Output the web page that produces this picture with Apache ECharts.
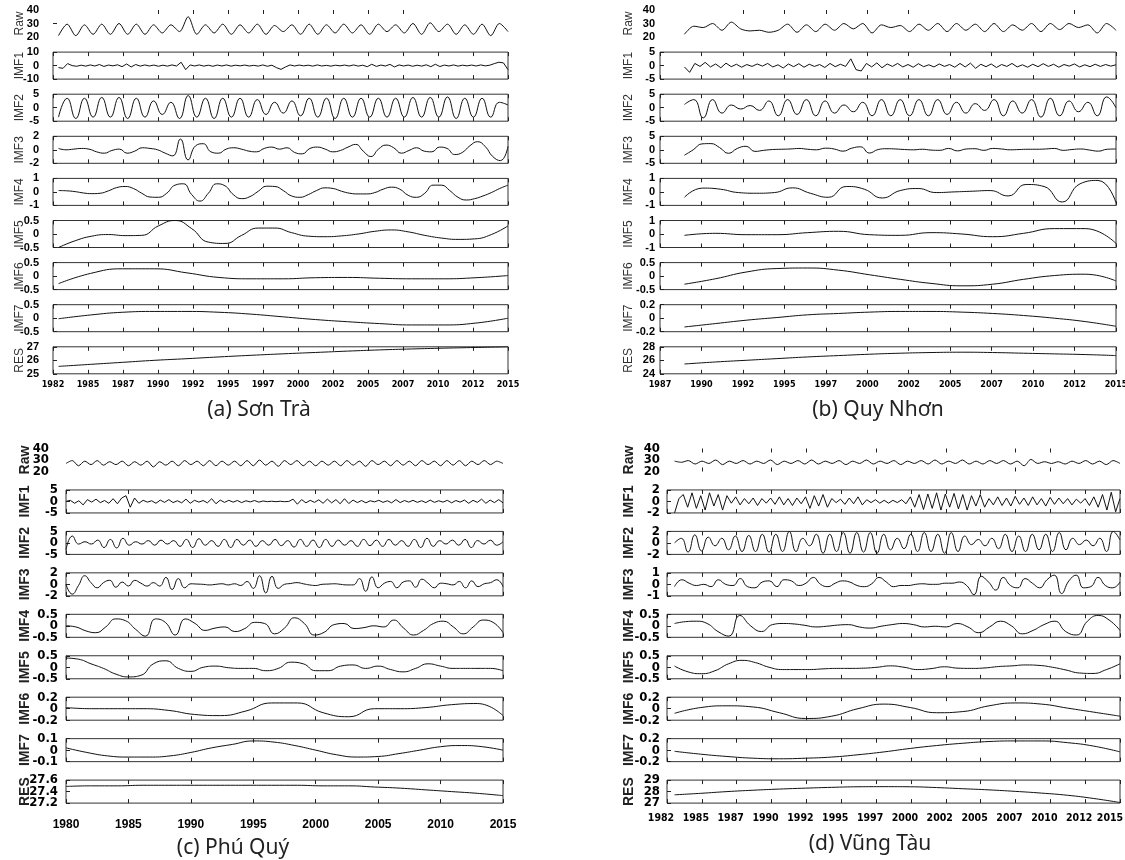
<!DOCTYPE html>
<html>
<head>
    <meta charset="utf-8">
    <title>EMD</title>
    <script src="https://cdn.jsdelivr.net/npm/echarts@6/dist/echarts.min.js"></script>
</head>
<body style="margin:0; background:#fff;">
    <div id="main" style="width:1125px; height:860px;"></div>
    <script>
        var rowNames = ['Raw', 'IMF1', 'IMF2', 'IMF3', 'IMF4', 'IMF5', 'IMF6', 'IMF7', 'RES']

        // (a) Son Tra
        var axisA = [1982.5, 2015.5]
        var spanA = [1982.9, 2015.5]
        var xLabelsA = ['1982', '1985', '1987', '1990', '1992', '1995', '1997', '2000', '2002', '2005', '2007', '2010', '2012', '2015']
        var yTicksA = [[20, 30, 40], [-10, 0, 10], [-5, 0, 5], [-2, 0, 2], [-1, 0, 1], [-0.5, 0, 0.5], [-0.5, 0, 0.5], [-0.5, 0, 0.5], [25, 26, 27]]
        var rawA = [21, 29.5, 21, 29, 22, 29.5, 22, 30, 22, 29.5, 22, 29, 23, 29, 24, 35, 22, 29, 23, 29.5, 22, 29, 23, 29.5, 22, 28.5, 24, 29, 22, 29.5, 22, 29, 23, 29.5, 23, 29, 22, 29.5, 24, 29, 23, 30, 22, 30.5, 24, 29.5, 22, 29, 22, 29.5, 21, 30, 24]
        var imf1A = [-1.5, -2, 1.5, 0, -0.5, 0.3, -0.4, 0.5, -0.3, 0.8, -0.6, 0.4, -0.2, 0.6, -0.8, 1.2, -1.0, 0.8, -0.4, 0.5, -0.3, 0.4, -0.5, 0.3, -0.4, 0.5, -0.3, 2.5, -3, 0.5, -0.3, 0.5, -0.4, 0.3, -0.5, 0.4, -0.3, 0.5, -0.4, 0.3, -0.2, 0.4, -0.3, 0.2, -0.4, 0.5, -0.5, 0.3, -1.5, -2.8, -1.0, 0.5, -0.3, 0.4, -0.2, 0.3, -0.4, 0.5, -0.3, 0.2, -0.4, 0.3, -0.2, 0.4, -0.3, 0.5, -0.4, 0.3, -0.8, 1.0, -0.6, 0.4, -0.3, 0.9, -1.0, 0.5, -0.3, 0.4, -0.5, 0.3, -0.4, 0.6, -0.8, 1.0, -0.7, 0.4, -0.3, 0.5, -0.4, 0.3, -0.2, 0.4, -0.3, 0.5, -0.2, 0.3, 1.5, 2.5, 2.0, -3.0]
        var imf2A = [-3.5, 3.5, -4, 3.5, -3.5, 3.8, -3.5, 3.8, -4, 3.5, -3.5, 2.5, -2.5, 2, -4, 4.5, -3.5, 3.5, -4, 3.5, -3.5, 3.5, -3.5, 3, -2.5, 2, -2, 2.5, -3, 3.5, -3.5, 3.5, -4, 3.5, -3.5, 3.5, -3.5, 3.5, -3.5, 3.5, -3.5, 3.8, -3.5, 3.8, -3.5, 4, -4, 3.5, -3.5, 3.5, -3.5, 2, 1]
        var imf3A = [0.2, 0, 0.1, 0.2, 0.1, -0.3, -0.5, -0.1, 0.1, -0.5, -0.2, 0.3, 0.2, 0, -0.5, -0.9, 1.6, -1.5, 0.6, 0.9, -0.3, -0.5, 0.1, 0.3, 0.1, -0.2, -0.3, 0.2, 0.4, 0.1, 0.3, -0.4, -0.6, 0.2, 0.4, 0.1, -0.3, -0.1, 0.4, 0.8, -0.2, -1.0, 0.1, 0.7, 0.3, -0.5, -0.1, 0.3, -0.2, -0.3, 0.4, 0.2, -0.7, -0.4, 0.6, 1.2, 0.5, -1.0, -1.6, 0.5]
        var imf4A = [0.1, 0.08, 0.02, -0.08, -0.13, -0.1, 0.08, 0.32, 0.4, 0.25, -0.1, -0.38, -0.4, -0.1, 0.5, 0.6, -0.2, -0.68, -0.1, 0.6, 0.45, -0.2, -0.5, -0.35, 0.05, 0.42, 0.4, 0.1, -0.3, -0.4, -0.2, 0.1, 0.3, 0.25, 0.05, -0.1, -0.15, -0.15, -0.05, 0.2, 0.35, 0.2, -0.25, -0.4, -0.1, 0.5, 0.5, 0.1, -0.4, -0.6, -0.5, -0.3, -0.05, 0.25, 0.5]
        var imf5A = [-0.5, -0.25, -0.08, -0.02, -0.06, -0.05, 0.3, 0.5, 0.2, -0.3, -0.35, -0.05, 0.22, 0.22, 0.05, -0.08, -0.1, -0.07, 0, 0.1, 0.15, 0.08, -0.05, -0.15, -0.2, -0.18, -0.02, 0.3]
        var imf6A = [-0.28, 0.1, 0.27, 0.27, 0.12, -0.05, -0.1, -0.1, -0.06, -0.05, -0.08, -0.1, -0.1, -0.06, 0.02]
        var imf7A = [-0.02, 0.12, 0.22, 0.25, 0.25, 0.22, 0.15, 0.05, -0.05, -0.13, -0.2, -0.25, -0.25, -0.18, 0]
        var resA = [25.55, 25.7, 25.85, 26.0, 26.12, 26.25, 26.37, 26.48, 26.58, 26.68, 26.77, 26.84, 26.9, 26.95, 27.0]

        // (b) Quy Nhon
        var axisB = [1987.5, 2015.5]
        var spanB = [1989.0, 2015.5]
        var xLabelsB = ['1987', '1990', '1992', '1995', '1997', '2000', '2002', '2005', '2007', '2010', '2012', '2015']
        var yTicksB = [[20, 30, 40], [-5, 0, 5], [-5, 0, 5], [-5, 0, 5], [-1, 0, 1], [-1, 0, 1], [-0.5, 0, 0.5], [-0.2, 0, 0.2], [24, 26, 28]]
        var rawB = [22, 28, 27, 30, 25, 31, 26, 24.5, 25, 23.5, 25, 29.5, 23.5, 29, 24, 29.5, 25, 30, 26, 30, 23, 29, 27, 28.5, 24, 29.5, 25, 30, 24, 30, 25, 29.5, 24, 30, 24, 29, 25, 30, 24, 30, 25.5, 30, 27, 29, 23, 30, 25]
        var imf1B = [-0.5, -2.5, 0.8, -0.3, 1.2, -0.5, 0.6, -0.8, 0.9, -0.4, 0.5, -0.6, 0.4, -0.3, 0.6, -0.2, 0.8, -0.5, 0.3, -0.9, 0.6, -0.4, 0.7, -0.6, 0.5, -0.3, 0.4, -0.7, 0.8, -0.4, 0.5, -0.3, 2.5, -1.5, -2.0, 0.8, -0.5, 1.0, -0.8, 0.6, -0.3, 0.8, -0.5, 0.4, -0.6, 0.7, -0.4, 0.3, -0.5, 0.6, -0.3, 0.4, -0.6, 0.8, -0.5, 0.9, -1.0, 0.5, -0.4, 0.6, -0.7, 0.4, -0.3, 0.8, -0.5, 0.3, -0.6, 0.5, -0.4, 0.7, -0.3, 0.5, -0.6, 0.4, -0.2, 0.6, -0.5, 0.3, -0.4, 0.5, -0.3, 0.4, -0.2, 0.3]
        var imf2B = [1.2, 3, -3.8, 3, -2, 1, -0.5, 0.8, -1, 2.5, -3, 3, -2.5, 3, -3, 2.5, -2, 1, -1.5, 2, -3, 3, -3, 3, -3, 3, -3, 3, -2.5, 2, -2, 1.5, -1, 3, -3, 2.5, -2, 3, -3.5, 3.5, -3, 2.5, -1.5, 2, -3, 4, 0]
        var imf3B = [-2, 0, 2.2, 2.3, 0.8, -1.3, 0.5, 1.3, -0.6, -0.2, 0.1, 0.2, 0.3, 0.5, 0.2, 0, 0.6, 0.3, -0.5, 0.6, 1.1, -1.2, 0.1, 0.4, 0.3, 0.1, 0, 0.2, -0.1, -0.2, 0.5, -0.4, 0.3, 0.4, -0.2, 0.5, 0.3, 0, 0.1, 0.2, 0.2, 0.3, 0.5, -0.2, 0.1, 0.3, -0.1, -0.5, 0.2, 0.3]
        var imf4B = [-0.4, 0.28, 0.2, -0.05, -0.1, -0.05, 0.3, -0.1, -0.4, 0.4, 0.2, -0.45, 0.1, 0.25, -0.05, 0, 0.05, 0.1, -0.3, 0.55, 0.4, -0.75, 0.6, 0.85, -0.8]
        var imf5B = [-0.1, 0.05, -0.05, -0.05, 0.1, 0.2, -0.05, -0.1, 0.1, 0, -0.2, 0.05, 0.4, 0.4, -0.7]
        var imf6B = [-0.3, -0.1, 0.15, 0.28, 0.3, 0.22, 0.05, -0.12, -0.27, -0.36, -0.3, -0.12, 0.02, 0.07, -0.18]
        var imf7B = [-0.13, -0.08, -0.03, 0.01, 0.05, 0.07, 0.09, 0.1, 0.1, 0.09, 0.07, 0.04, 0, -0.05, -0.12]
        var resB = [25.45, 25.75, 26.0, 26.25, 26.5, 26.7, 26.9, 27.05, 27.15, 27.2, 27.15, 27.05, 26.95, 26.85, 26.7]

        // (c) Phu Quy
        var axisC = [1980, 2015]
        var spanC = [1980, 2015]
        var xLabelsC = ['1980', '1985', '1990', '1995', '2000', '2005', '2010', '2015']
        var yTicksC = [[20, 30, 40], [-5, 0, 5], [-5, 0, 5], [-2, 0, 2], [-0.5, 0, 0.5], [-0.5, 0, 0.5], [-0.2, 0, 0.2], [-0.1, 0, 0.1], [27.2, 27.4, 27.6]]
        var rawC = [27, 29.5, 25, 29, 26, 29.5, 25.5, 28.5, 26, 29, 25, 28.5, 25.5, 29, 24, 28.5, 25.5, 29, 25, 29.5, 26, 29, 25, 29.5, 25, 29, 25.5, 29, 25, 29.5, 25, 30, 25.5, 29, 24.5, 29.5, 26, 29.5, 25, 29, 25, 29, 25.5, 29, 25, 29.5, 25.5, 29, 24.5, 29.5, 26, 29, 25, 29.5, 25.5, 29, 25, 29.5, 26, 29, 25, 29.5, 25.5, 29.5, 25, 29, 26, 29.5, 26, 29, 27]
        var imf1C = [0, 0.5, -0.8, 0.3, -1.5, 0.8, -0.3, 1.0, -0.5, 0.4, -0.8, 1.2, -1.0, 1.5, 2.5, -2.5, 1.5, -0.8, 0.5, -0.3, 0.3, -0.8, 0.6, -0.4, 0.8, -0.5, 0.3, -0.6, 1.0, -0.8, 0.5, -0.3, 0.4, -0.6, 1.2, -1.0, 0.6, -0.4, 0.5, -0.3, 0.4, -0.5, 0.3, -0.2, 0.4, -0.3, 0.2, -0.1, 0.1, -0.1, 0.1, -0.1, 0, 1.0, -1.2, 0.8, -0.6, 0.5, -0.4, 0.7, -0.8, 1.0, -0.6, 0.8, -1.0, 1.2, -0.9, 0.6, -0.5, 0.4, -0.6, 0.3, -0.2, 0.5, -0.4, 0.3, -0.6, 0.8, -0.5, 0.4, -0.3, 0.5, -0.4, 0.3, -0.5, 0.6, -0.4, 0.3, -0.3, 0.5, -0.6, 0.4, -0.3, 0.6, -0.8, 0.5, -0.4, 1.0, -0.8, 0.6, -0.5, 0.8, -0.6]
        var imf2C = [-3, 3, -0.5, 0.5, -0.5, 1.2, -2, 1.5, -2.2, 2, -1, 0.5, -0.5, 1, -1, 1.2, -0.5, 1, -1.5, 1.5, -2, 1.8, -1, 1, -1.5, 1.5, -2, 1.5, -1, 1.2, -1.5, 1, -1, 1.5, -1.2, 1, -1.8, 1.5, -1.5, 1.2, -2, 1.5, -1.5, 1.2, -1, 1, -1.5, 1.5, -1.2, 1.2, -1.5, 1.5, -1, 1, -1.5, 1.5, -2, 2, -1.5, 1, -0.5, 1.2, -1, 1.5, -2, 1, -0.5, 1.2, -1, 0.5]
        var imf3C = [0, -1.7, -0.2, 1.5, 0.3, -0.6, 0.3, 0.7, -0.5, 0.4, -0.3, 0.7, 0.2, -0.3, 0.3, -0.3, 1.2, -0.9, 1.0, -0.6, 0.1, 0.05, 0, -0.1, 0, 0.1, -0.1, 0.1, -0.2, 0.5, -0.7, 1.5, -1.5, 1.4, -0.7, 0, 0.15, 0.3, 0.1, -0.1, -0.2, 0, 0.05, 0.1, 0, -0.1, -0.1, 1.0, -1.2, 1.3, -0.6, 0.2, 0.5, -0.6, 0.4, 0.6, -0.5, 0.9, 0.2, -0.6, 0.2, 0.1, -0.1, 0.5, -0.6, 0.6, -0.4, 0.1, 0.3, 0.8, -0.4]
        var imf4C = [0, -0.05, -0.22, -0.3, -0.05, 0.3, 0.22, -0.15, -0.45, 0.3, 0.15, -0.4, 0.3, 0.1, -0.2, -0.1, -0.05, -0.25, -0.12, 0.15, 0.1, -0.35, -0.1, 0.35, 0.1, -0.4, -0.28, 0.05, 0.1, -0.12, -0.08, 0, -0.05, 0.25, -0.1, -0.4, -0.2, 0.1, 0.2, -0.05, -0.35, -0.05, 0.25, 0.15, -0.3]
        var imf5C = [0.4, 0.35, 0.15, -0.05, -0.3, -0.42, -0.35, 0.15, 0.28, -0.05, -0.18, 0, 0.05, -0.02, -0.05, -0.05, -0.15, -0.05, 0.22, 0.15, -0.15, -0.15, 0.05, 0.1, -0.05, 0.05, -0.1, -0.2, -0.05, 0.15, 0.05, -0.05, -0.05, -0.05, -0.05, -0.15]
        var imf6C = [0.02, 0, 0, 0, -0.03, -0.1, -0.12, -0.04, 0.1, 0.1, -0.07, -0.14, 0, 0, 0.02, 0.07, 0.09, -0.12]
        var imf7C = [0.02, -0.02, -0.05, -0.06, -0.06, -0.05, -0.02, 0.02, 0.05, 0.08, 0.07, 0.04, 0, -0.04, -0.06, -0.055, -0.03, 0, 0.03, 0.04, 0.03, 0]
        var resC = [27.49, 27.5, 27.5, 27.51, 27.51, 27.51, 27.51, 27.51, 27.51, 27.51, 27.5, 27.5, 27.48, 27.46, 27.43, 27.4, 27.37, 27.33]

        // (d) Vung Tau
        var axisD = [1982.5, 2015.5]
        var spanD = [1983.05, 2015.5]
        var xLabelsD = ['1982', '1985', '1987', '1990', '1992', '1995', '1997', '2000', '2002', '2005', '2007', '2010', '2012', '2015']
        var yTicksD = [[20, 30, 40], [-2, 0, 2], [-2, 0, 2], [-1, 0, 1], [-0.5, 0, 0.5], [-0.5, 0, 0.5], [-0.2, 0, 0.2], [-0.2, 0, 0.2], [27, 28, 29]]
        var rawD = [29, 28, 29.5, 26.5, 29, 27, 30, 26, 29, 27, 29.5, 26.5, 29, 27, 30, 26, 29, 27, 29.5, 26.5, 30, 26.5, 29, 27, 29.5, 26, 29, 27, 30, 26.5, 29, 27, 29.5, 26, 29, 27, 29.5, 26.5, 30, 26.5, 29, 27, 30, 26.5, 29, 26.5, 29.5, 27, 29.5, 26.5, 29, 25, 30.5, 27, 28.5, 27, 28.5, 26.5, 29, 27, 29.5, 26.5, 29, 26, 29.5, 27]
        var imf1D = [-2, 0.5, 1.2, -1.0, 1.5, -1.2, 1.0, -1.5, 1.5, -0.8, 1.2, -1.5, 1.0, -0.3, 0.8, -0.6, 0.5, -0.4, 0.6, -0.7, 0.5, -0.3, 0.6, -0.5, 0.8, -0.6, 0.5, -0.7, 0.6, -0.4, 0.8, -1.2, 1.0, -0.8, 1.2, -1.0, 0.5, -0.2, 0.4, -0.5, 0.6, -0.4, 0.8, -0.6, 0.3, -0.2, 0.3, -0.3, 0.2, -0.3, 0.2, -0.2, 0.3, -0.4, 0.8, -1.0, 1.2, -1.4, 1.3, -1.2, 1.5, -1.5, 1.3, -1.0, 1.4, -1.3, 1.2, -1.5, 1.0, -0.8, 1.2, -1.0, 0.5, -0.6, 0.8, -0.7, 0.6, -0.8, 0.9, -0.5, 0.6, -0.7, 0.8, -0.6, 0.5, -0.8, 0.7, -0.5, 0.6, -0.4, 0.5, -0.6, 0.4, -0.3, 0.5, -0.7, 0.8, -1.0, 1.2, -1.5, 1.6, -1.8, 0.5]
        var imf2D = [0, 0.8, -1.6, 1.4, -1.4, 1, -0.5, 0.8, -1.2, 1.2, -1.5, 1.3, -1.5, 1.5, -1.6, 1.5, -1.5, 2, -1.5, 0.8, -0.5, 1.5, -1.8, 1.5, -1.5, 1.8, -1.8, 1.8, -1.6, 1.8, -1.8, 1.5, -1.2, 0.8, -1, 1.5, -1.5, 1.8, -1.5, 1.5, -1.8, 1.8, -1.5, 1.2, -0.3, 0.6, -0.5, 0.8, -1, 1.5, -1.5, 1.2, -1.5, 1.5, -1.2, 1.5, -1.5, 1.8, -1.2, 0.8, -0.3, 0.5, -0.5, 0.8, -1.5, 2, 0.5]
        var imf3D = [-0.2, 0.4, 0.1, -0.1, 0, -0.2, 0.4, 0, -0.1, 0.5, -0.2, -0.3, 0.2, 0.3, -0.2, 0.4, 0.3, -0.1, 0.1, 0.6, 0, -0.2, 0.1, 0.3, 0.2, -0.1, -0.2, 0.05, 0.6, 0.2, -0.2, -0.1, -0.1, 0, 0.05, 0, 0, 0.1, 0.1, 0.2, -0.1, -0.9, 0.7, 0.2, -0.5, 0.6, -0.1, -0.3, 0.5, 0.1, -0.3, 0.4, 0.8, -0.8, 0.3, 0.8, -0.3, -0.2, 0.6, -0.1, -0.3, 0.2]
        var imf4D = [0.1, 0.18, 0.2, 0.1, -0.25, -0.45, 0.45, 0, -0.25, 0.05, 0.1, 0.08, 0.02, -0.05, -0.02, 0.03, 0.05, -0.05, -0.1, -0.02, 0.05, 0.1, 0.05, -0.05, -0.02, -0.05, 0.1, -0.05, -0.3, -0.05, 0.2, 0, -0.35, -0.2, 0.05, 0.2, -0.25, -0.4, 0.2, 0.45, 0.25, -0.2]
        var imf5D = [0.05, -0.2, -0.28, -0.15, 0.15, 0.3, 0.2, 0, -0.1, -0.1, -0.1, -0.07, -0.05, -0.05, -0.04, 0, 0.06, 0, -0.1, -0.06, 0.02, -0.04, -0.05, -0.03, 0.03, 0.06, 0.1, 0.08, 0, -0.12, -0.25, -0.27, -0.1, 0.15]
        var imf6D = [-0.08, 0.02, 0.05, 0.03, -0.07, -0.17, -0.13, 0, 0.08, 0.02, -0.07, -0.05, 0.05, 0.1, 0.08, 0.01, -0.06, -0.13]
        var imf7D = [-0.02, -0.07, -0.11, -0.14, -0.15, -0.14, -0.12, -0.08, -0.03, 0.03, 0.08, 0.12, 0.15, 0.16, 0.16, 0.13, 0.07, -0.03]
        var resD = [27.72, 27.85, 28.0, 28.12, 28.22, 28.3, 28.37, 28.42, 28.43, 28.42, 28.35, 28.25, 28.15, 28.02, 27.87, 27.68, 27.4, 27.05]

        var bold = function(size, family) {
            return {fontSize: size, fontWeight: 'bold', fontFamily: family, color: '#000'}
        }
        var narrow = "'Liberation Sans Narrow', 'DejaVu Sans Condensed', 'Liberation Sans', sans-serif"
        var sans = "'Liberation Sans', Arial, sans-serif"
        var deja = "'DejaVu Sans Condensed', 'DejaVu Sans', sans-serif"

        var panels = [
            {
                caption: '(a) Sơn Trà', capX: 259, capY: 410,
                axis: axisA, span: spanA, xLabels: xLabelsA, yTicks: yTicksA,
                rows: [rawA, imf1A, imf2A, imf3A, imf4A, imf5A, imf6A, imf7A, resA],
                left: 53, width: 455, top0: 10, step: 42.1, height: 27,
                yFont: bold(11, sans), xFont: bold(9, narrow), nameFont: {fontSize: 12, color: '#333', fontFamily: sans},
                yMargin: 14, rawYMargin: 14, nameGap: 27, xMargin: 6, xPad: 0, lastPad: -1,
                rawTop: [3, 4, 5, 6, 7, 8, 9, 10], rawBottom: [], rawYTick: [30]
            },
            {
                caption: '(b) Quy Nhơn', capX: 878, capY: 410,
                axis: axisB, span: spanB, xLabels: xLabelsB, yTicks: yTicksB,
                rows: [rawB, imf1B, imf2B, imf3B, imf4B, imf5B, imf6B, imf7B, resB],
                left: 660, width: 456, top0: 10, step: 42.1, height: 27,
                yFont: bold(11, sans), xFont: bold(9, narrow), nameFont: {fontSize: 12, color: '#333', fontFamily: sans},
                yMargin: 5, rawYMargin: 5, nameGap: 25, xMargin: 6, xPad: 0, lastPad: -1,
                rawTop: [2, 3, 4, 5, 6, 10], rawBottom: [], rawYTick: []
            },
            {
                caption: '(c) Phú Quý', capX: 233, capY: 848,
                axis: axisC, span: spanC, xLabels: xLabelsC, yTicks: yTicksC,
                rows: [rawC, imf1C, imf2C, imf3C, imf4C, imf5C, imf6C, imf7C, resC],
                left: 66, width: 437, top0: 448.5, step: 41.45, height: 23,
                yFont: bold(13, narrow), xFont: bold(12, sans), nameFont: {fontSize: 14, fontWeight: 'bold', color: '#222', fontFamily: sans},
                yMargin: 8, rawYMargin: 17, nameGap: 34, xMargin: 16, xPad: 0, lastPad: -1,
                rawTop: [], rawBottom: [], rawYTick: []
            },
            {
                caption: '(d) Vũng Tàu', capX: 870, capY: 844,
                axis: axisD, span: spanD, xLabels: xLabelsD, yTicks: yTicksD,
                rows: [rawD, imf1D, imf2D, imf3D, imf4D, imf5D, imf6D, imf7D, resD],
                left: 667, width: 453, top0: 448.5, step: 41.45, height: 23,
                yFont: bold(13, narrow), xFont: bold(10.5, deja), nameFont: {fontSize: 14, fontWeight: 'bold', color: '#222', fontFamily: sans},
                yMargin: 7, rawYMargin: 7, nameGap: 31, xMargin: 10, xPad: 12, lastPad: 20,
                rawTop: [1, 3, 4, 6, 8, 10, 11], rawBottom: [1, 3, 6, 8, 10, 11], rawYTick: []
            }
        ]

        var toPoints = function(vals, span) {
            var step = (span[1] - span[0]) / (vals.length - 1)
            return vals.map(function(v, i) {
                return [span[0] + i * step, v]
            })
        }

        var fmt = function(v) {
            return String(+Number(v).toFixed(2))
        }

        var tickStyle = {color: '#222', width: 1}

        var grids = []
        var xAxes = []
        var yAxes = []
        var series = []
        var graphics = []

        panels.forEach(function(p) {
            var n = p.xLabels.length
            var tickStep = (p.axis[1] - p.axis[0]) / (n - 1)
            var ticks = p.xLabels.map(function(_, k) {
                return p.axis[0] + k * tickStep
            })
            var labelOf = function(v) {
                return p.xLabels[Math.round((v - p.axis[0]) / tickStep)] || ''
            }
            var splitLast = p.lastPad >= 0
            p.rows.forEach(function(vals, r) {
                var gi = grids.length
                var isRaw = r === 0
                var isLast = r === p.rows.length - 1
                var yt = p.yTicks[r]
                grids.push({
                    left: p.left, width: p.width,
                    top: p.top0 + r * p.step, height: p.height,
                    show: !isRaw, borderColor: '#333', borderWidth: 1,
                    backgroundColor: 'transparent',
                    outerBoundsMode: 'none', containLabel: false
                })

                // y axes: [0] min/max labels + name, [1] middle label,
                // [2] helper whose zero is the bottom edge, [3] helper whose zero is the top edge
                var yIndex = yAxes.length
                var yTickVals = isRaw ? p.rawYTick : yt
                yAxes.push({
                    type: 'value', gridIndex: gi, position: 'left', min: yt[0], max: yt[2],
                    axisLine: {show: false, onZero: false}, splitLine: {show: false},
                    axisTick: {show: yTickVals.length > 0, inside: true, length: 4,
                        customValues: yTickVals, lineStyle: tickStyle},
                    axisLabel: Object.assign({
                        customValues: [yt[0], yt[2]], formatter: fmt, hideOverlap: false,
                        showMinLabel: true, showMaxLabel: true,
                        margin: isRaw ? p.rawYMargin : p.yMargin
                    }, p.yFont),
                    name: rowNames[r], nameLocation: 'middle', nameRotate: 90,
                    nameGap: p.nameGap, nameMoveOverlap: false, nameTextStyle: p.nameFont
                })
                yAxes.push({
                    type: 'value', gridIndex: gi, position: 'left', min: yt[0], max: yt[2],
                    axisLine: {show: false, onZero: false}, splitLine: {show: false}, axisTick: {show: false},
                    axisLabel: Object.assign({
                        customValues: [yt[1]], formatter: fmt,
                        showMinLabel: true, showMaxLabel: true,
                        margin: isRaw ? p.rawYMargin : p.yMargin
                    }, p.yFont)
                })
                yAxes.push({
                    type: 'value', gridIndex: gi, show: false, min: 0, max: 1,
                    axisLine: {onZero: false}
                })
                yAxes.push({
                    type: 'value', gridIndex: gi, show: false, min: -1, max: 0,
                    axisLine: {onZero: false}
                })

                var bottomTicks = isRaw ? p.rawBottom.map(function(k) { return ticks[k] }) : ticks
                var topTicks = isRaw ? p.rawTop.map(function(k) { return ticks[k] }) : ticks
                var labelTicks = splitLast ? ticks.slice(0, -1) : ticks
                var bottomIndex = xAxes.length
                xAxes.push({
                    type: 'value', gridIndex: gi, position: 'bottom',
                    min: p.axis[0], max: p.axis[1],
                    axisLine: {show: false, onZero: true, onZeroAxisIndex: yIndex + 2},
                    splitLine: {show: false},
                    axisTick: {show: bottomTicks.length > 0, inside: true, length: 4,
                        customValues: bottomTicks, lineStyle: tickStyle},
                    axisLabel: Object.assign({
                        show: isLast, customValues: labelTicks, interval: 0, hideOverlap: false,
                        showMinLabel: true, showMaxLabel: true,
                        margin: p.xMargin, formatter: labelOf,
                        padding: [0, p.xPad, 0, 0]
                    }, p.xFont)
                })
                xAxes.push({
                    type: 'value', gridIndex: gi, position: 'top',
                    min: p.axis[0], max: p.axis[1],
                    axisLine: {show: false, onZero: true, onZeroAxisIndex: yIndex + 3},
                    splitLine: {show: false},
                    axisTick: {show: topTicks.length > 0, inside: true, length: 4,
                        customValues: topTicks, lineStyle: tickStyle},
                    axisLabel: {show: false}
                })
                if (isLast && splitLast) {
                    // last year label on its own axis, pulled in against the right edge
                    xAxes.push({
                        type: 'value', gridIndex: gi, position: 'bottom',
                        min: p.axis[0], max: p.axis[1],
                        axisLine: {show: false, onZero: false}, splitLine: {show: false}, axisTick: {show: false},
                        axisLabel: Object.assign({
                            customValues: [ticks[n - 1]], formatter: labelOf,
                            showMinLabel: true, showMaxLabel: true,
                            alignMinLabel: 'center', alignMaxLabel: 'center',
                            padding: [0, p.lastPad, 0, 0],
                            margin: p.xMargin
                        }, p.xFont)
                    })
                }

                series.push({
                    type: 'line',
                    xAxisIndex: bottomIndex, yAxisIndex: yIndex,
                    data: toPoints(vals, p.span),
                    showSymbol: false, symbol: 'none',
                    smooth: r === 1 ? false : (r === 0 ? 0.3 : true),
                    lineStyle: {color: '#111', width: 1},
                    silent: true, animation: false
                })
            })
            graphics.push({
                type: 'text', x: p.capX, y: p.capY,
                style: {
                    text: p.caption, fill: '#222',
                    font: "21px 'Noto Sans', 'Open Sans', sans-serif",
                    textAlign: 'center', textVerticalAlign: 'middle'
                }
            })
        })

        var myChart = echarts.init(document.querySelector('#main'))
        myChart.setOption({
            animation: false,
            backgroundColor: '#fff',
            grid: grids,
            xAxis: xAxes,
            yAxis: yAxes,
            series: series,
            graphic: graphics
        })
    </script>
</body>
</html>
